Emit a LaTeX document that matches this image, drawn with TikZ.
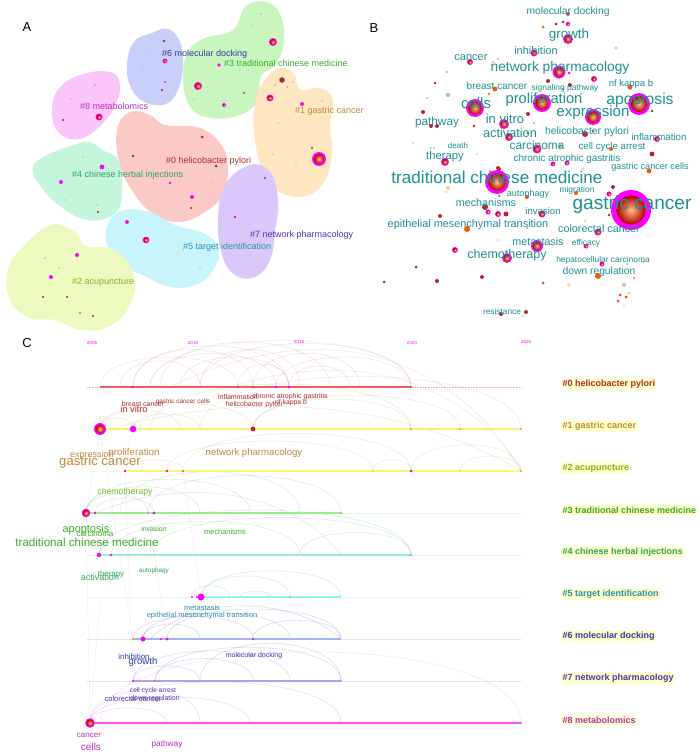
\documentclass[tikz,border=0pt]{standalone}
\usepackage{fontspec}
\setmainfont{Liberation Sans}
\definecolor{dred}{RGB}{178,40,52}
\definecolor{mag}{RGB}{255,0,255}
\definecolor{tealw}{RGB}{32,145,145}
\definecolor{bl6}{RGB}{200,208,250}
\definecolor{bl3}{RGB}{200,246,190}
\definecolor{bl1}{RGB}{253,230,192}
\definecolor{bl8}{RGB}{250,198,250}
\definecolor{bl0}{RGB}{252,202,198}
\definecolor{bl4}{RGB}{196,246,220}
\definecolor{bl7}{RGB}{218,200,250}
\definecolor{bl5}{RGB}{200,245,252}
\definecolor{bl2}{RGB}{236,250,192}
\definecolor{c0}{RGB}{170,45,50}
\definecolor{c1}{RGB}{190,138,60}
\definecolor{c2}{RGB}{128,178,45}
\definecolor{c3}{RGB}{60,170,40}
\definecolor{c4}{RGB}{45,165,95}
\definecolor{c5}{RGB}{45,145,175}
\definecolor{c6}{RGB}{50,60,165}
\definecolor{c7}{RGB}{85,50,175}
\definecolor{c8}{RGB}{185,50,185}
\definecolor{l0}{RGB}{240,95,95}
\definecolor{l1}{RGB}{250,240,110}
\definecolor{l2}{RGB}{250,244,120}
\definecolor{l3}{RGB}{150,240,140}
\definecolor{l4}{RGB}{150,240,205}
\definecolor{l5}{RGB}{140,245,245}
\definecolor{l6}{RGB}{170,180,240}
\definecolor{l7}{RGB}{180,160,240}
\definecolor{l8}{RGB}{250,80,250}
\definecolor{hl}{RGB}{255,255,200}
\newcommand\fsz[1]{\fontsize{#1}{#1}\selectfont}
\newcommand\dd[3]{\fill[#3] (#1) circle (#2pt);}
\newcommand\rn[2]{\fill[mag] (#1) circle (#2pt);\shade[inner color=orange!50!white, outer color=red!70!black] (#1) circle ({0.72*#2pt});}
\newcommand\ta[5]{\draw[#5] (#1,#3) .. controls (#1,{#3-#4}) and (#2,{#3-#4}) .. (#2,#3);}
\tikzset{
  alab/.style={font=\fsz{9}, inner sep=0, anchor=west},
  bword/.style={text=tealw, inner sep=0},
  rlab/.style={font=\fsz{9}\bfseries, fill=hl, rounded corners=4pt, inner sep=1.5pt, anchor=west},
  kw/.style={inner sep=0},
  yr/.style={text=mag, font=\fsz{4.5}, inner sep=0},
  plab/.style={font=\fsz{13}, inner sep=0},
  dotl/.style={line width=0.4pt, dash pattern=on 0.6pt off 1pt, opacity=0.5},
  sol/.style={line width=1.3pt},
}
\begin{document}
\begin{tikzpicture}[x=1pt,y=-1pt]
\fill[white] (0,0) rectangle (700,752);
\useasboundingbox (0,0) rectangle (700,752);

% ================= PANEL A =================
\node[plab] (pA) at (27,27) {A};
\fill[bl6] plot[smooth cycle, tension=0.7] coordinates {(152,33) (168,29) (180,42) (183,65) (178,90) (166,104) (147,103) (132,90) (127,66) (134,42)};
\fill[bl3] plot[smooth cycle, tension=0.7] coordinates {(246,6) (266,2) (280,14) (284,40) (276,64) (261,76) (258,100) (240,115) (212,118) (191,108) (183,80) (188,52) (205,38) (233,30)};
\fill[bl1] plot[smooth cycle, tension=0.7] coordinates {(280,68) (294,74) (300,90) (320,88) (333,100) (330,126) (332,152) (325,180) (306,196) (280,192) (263,172) (254,132) (256,100) (265,80)};
\fill[bl8] plot[smooth cycle, tension=0.7] coordinates {(80,75) (110,72) (120,85) (115,106) (100,126) (80,139) (60,134) (52,114) (58,90)};
\fill[bl0] plot[smooth cycle, tension=0.7] coordinates {(130,112) (150,115) (165,125) (200,128) (222,146) (228,172) (222,196) (205,212) (180,222) (155,215) (135,195) (120,165) (117,130)};
\fill[bl4] plot[smooth cycle, tension=0.7] coordinates {(70,146) (90,142) (102,150) (118,160) (122,186) (118,210) (100,220) (80,218) (60,206) (45,192) (33,172) (40,159)};
\fill[bl7] plot[smooth cycle, tension=0.7] coordinates {(250,165) (270,172) (278,200) (275,232) (270,260) (255,277) (235,275) (222,255) (218,220) (225,185)};
\fill[bl5] plot[smooth cycle, tension=0.7] coordinates {(125,210) (150,212) (175,225) (205,234) (219,250) (212,272) (195,285) (170,287) (145,276) (120,263) (106,241) (110,220)};
\fill[bl2] plot[smooth cycle, tension=0.7] coordinates {(50,225) (75,232) (86,246) (115,250) (134,276) (130,305) (110,326) (80,330) (55,320) (30,318) (10,300) (8,270) (20,250)};
% dots A
\dd{164,41}{1.3}{dred}\rn{165,61}{2.5}\dd{146,52}{0.7}{dred!50}\dd{143,70}{0.7}{dred!50}\dd{165,82}{1}{mag}\dd{162,90}{1.4}{mag}
\dd{219,65}{1.8}{mag}\dd{240,70}{0.6}{blue!50}\dd{248,70}{0.6}{dred!50}\rn{273,42}{4}\dd{252,25}{0.6}{dred!50}\dd{261,14}{0.6}{gray}
\rn{198,86}{4}\dd{194,99}{0.7}{dred!60}\dd{244,93}{1.4}{dred!70}\rn{224,105}{2}
\dd{282,80}{2.8}{dred}\dd{275,85}{0.7}{dred}\dd{287,87}{0.7}{dred}\dd{293,82}{0.6}{blue!50}\rn{270,98}{3.5}\dd{302,104}{2}{mag}\dd{322,101}{0.6}{gray}
\dd{278,123}{0.6}{blue!50}\dd{312,148}{1.2}{dred}\rn{319,159}{7}\dd{273,154}{0.7}{dred!60}\dd{296,165}{0.7}{dred!60}
\dd{95,85}{0.7}{dred}\dd{71,99}{0.6}{dred!60}\rn{99,117}{3.5}\dd{63,120}{1.2}{dred}\dd{108,105}{0.6}{dred!60}
\dd{202,137}{1.5}{dred}\dd{128,140}{0.7}{dred!60}\dd{133,156}{1.4}{dred}\dd{216,166}{1.5}{dred}\dd{146,160}{0.6}{dred!60}
\dd{170,183}{1.3}{mag}\dd{161,184}{0.7}{dred!60}\dd{192,197}{2}{mag}\dd{191,208}{1.2}{dred}\dd{211,182}{0.7}{dred!60}
\dd{102,167}{2.4}{mag}\dd{61,182}{2}{mag}\dd{83,157}{0.6}{dred!60}\dd{65,200}{0.6}{dred!60}\dd{97,205}{0.7}{dred!60}\dd{109,200}{0.6}{dred!60}\dd{98,212}{1.2}{dred}
\dd{265,178}{1.2}{dred}\dd{235,217}{1.4}{mag}\dd{250,200}{0.6}{dred!60}\dd{250,255}{0.6}{dred!60}
\dd{127,222}{2}{mag}\dd{118,232}{0.7}{dred!60}\rn{146,240}{3.4}\dd{183,250}{0.6}{dred!60}\dd{200,268}{0.6}{dred!60}
\dd{77,255}{2}{mag}\dd{51,277}{2}{mag}\dd{45,258}{0.7}{dred}\dd{67,297}{1.2}{dred}\dd{43,297}{1.2}{dred}\dd{93,316}{1.2}{dred}\dd{80,313}{0.8}{dred}\dd{59,268}{0.6}{dred!60}
% labels A
\node[alab, text=c6] (a6) at (162,54) {\#6 molecular docking};
\node[alab, text=c3] (a3) at (224,63) {\#3 traditional chinese medicine};
\node[alab, text=c1] (a1) at (295,111) {\#1 gastric cancer};
\node[alab, text=c8] (a8) at (80,106) {\#8 metabolomics};
\node[alab, text=c0] (a0) at (166,161) {\#0 helicobacter pylori};
\node[alab, text=c4] (a4) at (72,175) {\#4 chinese herbal injections};
\node[alab, text=c7] (a7) at (250,235) {\#7 network pharmacology};
\node[alab, text=c5] (a5) at (183,247) {\#5 target identification};
\node[alab, text=c2] (a2) at (72,282) {\#2 acupuncture};

% ================= PANEL B =================
\node[plab] (pB) at (374,28) {B};
% small dots
\dd{568,14}{2}{dred!80}\dd{563,22}{1.5}{dred}\dd{556,24}{1.5}{dred}\rn{568,24}{2.2}\dd{543,27}{1.5}{orange!70!red}
\dd{616,48}{0.8}{blue!50}\dd{493,62}{0.8}{dred!60}\dd{498,59}{0.8}{dred!60}\dd{447,72}{0.9}{blue!60}
\dd{548,81}{2}{dred}\rn{594,79}{3}\dd{435,83}{1.4}{dred}\dd{495,89}{2.4}{orange!70!red}\dd{489,94}{1.3}{dred!60}
\dd{448,95}{2}{gray!60}\dd{427,98}{0.8}{dred!60}\dd{570,85}{2}{dred}\dd{563,89}{1.2}{blue!60}\dd{630,87}{2.6}{orange!70!red}
\dd{652,111}{1.4}{dred}\dd{581,94}{0.8}{blue!50}\dd{528,114}{2}{dred}\dd{423,112}{2}{dred}\dd{431,126}{2}{dred}\dd{437,126}{2}{dred}
\dd{474,126}{1.4}{dred}\dd{534,123}{0.8}{blue!50}\dd{528,133}{1.4}{dred}\dd{585,134}{3}{dred}\dd{593,131}{1.4}{dred!70}
\dd{413,143}{0.8}{dred!40}\dd{431,148}{0.8}{gray!60}\dd{434,148}{0.8}{gray!60}\dd{560,146}{2}{gray!60}\dd{611,149}{2}{orange!70!red}
\dd{652,154}{2.4}{dred}\dd{477,154}{0.8}{dred!40}\rn{553,164}{2.5}\rn{567,163}{2.5}\dd{498,168}{2}{dred}
\dd{499,169}{2}{dred}\dd{448,188}{2}{orange!40}\dd{446,192}{1.5}{orange!40}\dd{499,196}{1}{dred}\dd{527,197}{2}{orange!60!red}
\dd{576,193}{2}{orange!70!red}\dd{613,187}{2}{dred}\rn{609,194}{2.6}\dd{583,169}{1.5}{orange!40}\dd{649,171}{2.4}{orange!70!red}
\dd{609,215}{1.4}{dred}\dd{485,207}{3}{dred}\rn{488,212}{2.6}\rn{498,214}{3}\dd{506,214}{2.5}{dred}\dd{440,216}{2}{dred}
\dd{467,229}{3}{orange!70!red}\dd{527,228}{0.8}{gray}\dd{585,221}{1.4}{orange!40}\dd{498,240}{0.8}{orange!60}
\rn{586,246}{2.5}\rn{455,250}{3}\rn{602,264}{2.5}\dd{627,264}{0.8}{blue!50}\dd{643,262}{1.5}{orange!50}\dd{598,276}{3}{orange!70!red}
\dd{634,278}{1}{orange!70!red}\dd{416,267}{1.5}{dred}\dd{384,282}{1.5}{dred}\dd{437,281}{2}{dred}\dd{482,277}{2}{dred}\dd{543,283}{1.5}{dred!80}
\dd{569,285}{2}{orange!30}\dd{624,285}{2.2}{gray!40}\dd{620,295}{1.5}{orange!50!red}\dd{626,297}{1.5}{orange!50!red}\dd{629,293}{1.5}{orange!50}
\dd{618,301}{1.5}{orange!60!red}\dd{624,306}{0.8}{gray!50}\dd{501,314}{2}{dred}\dd{526,312}{2}{dred}\dd{523,316}{1.5}{orange!30}
% large nodes
\rn{568,39}{5}\rn{534,53}{3.5}\rn{470,62}{3}\rn{559,72}{6.5}\dd{569,73}{1.5}{mag}
\rn{639,104}{11}\rn{475,108}{9}\rn{542,103}{9}\rn{593,117}{8}\rn{504,124}{5}\rn{509,137}{4}\rn{657,139}{3}
\rn{537,149}{4.5}\rn{445,162}{4}\rn{497,182}{12}\rn{631,210}{20}\rn{542,214}{3.5}\rn{598,232}{3.5}\rn{537,246}{6}\rn{507,258}{5}
% words
\node[bword, font=\fsz{10.3}] (b1) at (568,12) {molecular docking};
\node[bword, font=\fsz{13.4}] (b2) at (569,35) {growth};
\node[bword, font=\fsz{11}] (b3) at (536,51) {inhibition};
\node[bword, font=\fsz{11}] (b4) at (471,58) {cancer};
\node[bword, font=\fsz{13.8}] (b5) at (560,68) {network pharmacology};
\node[bword, font=\fsz{10}] (b6) at (497,86) {breast cancer};
\node[bword, font=\fsz{8.4}] (b7) at (565,88) {signaling pathway};
\node[bword, font=\fsz{9.5}] (b8) at (631,84) {nf kappa b};
\node[bword, font=\fsz{15}] (b9) at (476,103) {cells};
\node[bword, font=\fsz{14.7}] (b10) at (544,100) {proliferation};
\node[bword, font=\fsz{15.7}] (b11) at (640,100) {apoptosis};
\node[bword, font=\fsz{15.1}] (b12) at (593,113) {expression};
\node[bword, font=\fsz{11.8}] (b13) at (437,122) {pathway};
\node[bword, font=\fsz{13}] (b14) at (505,119) {in vitro};
\node[bword, font=\fsz{12.7}] (b15) at (510,133) {activation};
\node[bword, font=\fsz{10.4}] (b16) at (587,132) {helicobacter pylori};
\node[bword, font=\fsz{9.7}] (b17) at (659,137) {inflammation};
\node[bword, font=\fsz{8}] (b18) at (458,146) {death};
\node[bword, font=\fsz{11.9}] (b19) at (537,145) {carcinoma};
\node[bword, font=\fsz{9.7}] (b20) at (612,147) {cell cycle arrest};
\node[bword, font=\fsz{11.3}] (b21) at (445,157) {therapy};
\node[bword, font=\fsz{9.9}] (b22) at (567,159) {chronic atrophic gastritis};
\node[bword, font=\fsz{9.1}] (b23) at (650,167) {gastric cancer cells};
\node[bword, font=\fsz{17.1}] (b24) at (497,177) {traditional chinese medicine};
\node[bword, font=\fsz{9}] (b25) at (528,194) {autophagy};
\node[bword, font=\fsz{8.5}] (b26) at (577,190) {migration};
\node[bword, font=\fsz{19.1}] (b27) at (632,205) {gastric cancer};
\node[bword, font=\fsz{10.7}] (b28) at (486,203) {mechanisms};
\node[bword, font=\fsz{9.6}] (b29) at (543,211) {invasion};
\node[bword, font=\fsz{10.9}] (b30) at (468,225) {epithelial mesenchymal transition};
\node[bword, font=\fsz{10.8}] (b31) at (599,229) {colorectal cancer};
\node[bword, font=\fsz{10.7}] (b32) at (538,242) {metastasis};
\node[bword, font=\fsz{8.4}] (b33) at (586,243) {efficacy};
\node[bword, font=\fsz{12.5}] (b34) at (507,255) {chemotherapy};
\node[bword, font=\fsz{8.4}] (b35) at (603,260) {hepatocellular carcinoma};
\node[bword, font=\fsz{10.3}] (b36) at (599,272) {down regulation};
\node[bword, font=\fsz{8.3}] (b37) at (502,312) {resistance};

% ================= PANEL C =================
\node[plab] (pC) at (27,343) {C};
\node[yr] (y1) at (92,343) {2006};
\node[yr] (y2) at (193,343) {2010};
\node[yr] (y3) at (299,342) {2015};
\node[yr] (y4) at (412,343) {2020};
\node[yr] (y5) at (526,342) {2025};
% faint cross lines
\begin{scope}[gray!40, line width=0.3pt, opacity=0.4]
\draw (100,429) -- (86,513); \draw (86,513) -- (90,723); \draw (125,471) -- (133,681);
\draw (133,429) -- (99,555); \draw (100,429) -- (133,639); \draw (148,513) -- (167,639);
\draw (90,723) -- (100,600); \draw (183,471) -- (201,597);
\end{scope}
% dotted full-length lines
\foreach \yy/\cc in {387/l0,429/l1,471/l2,513/l3,555/l4,597/l5,639/l6,681/l7,723/l8}
  \draw[dotl, \cc] (87,\yy) -- (521,\yy);
% arcs
\begin{scope}[line width=0.45pt, opacity=0.22]
\ta{100}{238}{387}{40}{c0!70}\ta{133}{253}{387}{50}{c0!70}\ta{133}{289}{387}{55}{c0!70}\ta{150}{276}{387}{45}{c0!70}
\ta{180}{289}{387}{40}{c0!70}\ta{200}{300}{387}{50}{c0!70}\ta{238}{289}{387}{30}{c0!70}\ta{253}{360}{387}{45}{c0!70}
\ta{276}{411}{387}{40}{c0!70}\ta{289}{350}{387}{28}{c0!70}\ta{120}{200}{387}{35}{c0!70}\ta{160}{330}{387}{60}{c0!70}
\ta{200}{411}{387}{58}{c0!70}\ta{150}{411}{387}{62}{c0!50}
\draw[c0!60] (170,387) .. controls (350,300) and (470,380) .. (521,471);
\draw[c0!60] (230,387) .. controls (380,340) and (480,400) .. (521,471);
% row 1
\ta{100}{133}{429}{15}{c1}\ta{100}{180}{429}{25}{c1}\ta{133}{200}{429}{20}{c1}\ta{100}{253}{429}{35}{c1}
\ta{253}{411}{429}{40}{c1}\ta{150}{411}{429}{60}{c1}\ta{253}{460}{429}{45}{c1}\ta{200}{521}{429}{70}{c1}
\draw[c1] (110,429) .. controls (250,390) and (400,400) .. (521,471);
% row 2
\ta{125}{183}{471}{15}{c2}\ta{373}{411}{471}{15}{c2}\ta{411}{521}{471}{35}{c2}\ta{460}{521}{471}{20}{c2}
\ta{183}{411}{471}{50}{c2}\ta{167}{373}{471}{40}{c2}
% row 3
\ta{86}{148}{513}{25}{c3}\ta{86}{200}{513}{35}{c3}\ta{95}{154}{513}{20}{c3}\ta{148}{341}{513}{50}{c3}
\ta{120}{300}{513}{55}{c3}\ta{86}{250}{513}{45}{c3}
\draw[c3] (95,513) .. controls (200,470) and (300,500) .. (341,555);
% row 4
\ta{99}{155}{555}{20}{c4}\ta{111}{300}{555}{45}{c4}\ta{99}{411}{555}{60}{c4}\ta{150}{411}{555}{50}{c4}\ta{300}{411}{555}{30}{c4}
% row 5
\ta{201}{341}{597}{35}{c5}\ta{201}{290}{597}{28}{c5}\ta{240}{270}{597}{8}{c5}\ta{192}{230}{597}{15}{c5}
\draw[c6] (150,639) .. controls (200,590) and (300,600) .. (341,639);
% row 6
\ta{133}{253}{639}{30}{c6}\ta{143}{290}{639}{35}{c6}\ta{253}{341}{639}{25}{c6}\ta{167}{341}{639}{40}{c6}\ta{143}{200}{639}{20}{c6}
% row 7
\ta{133}{290}{681}{40}{c7}\ta{155}{341}{681}{45}{c7}\ta{133}{200}{681}{20}{c7}\ta{155}{253}{681}{30}{c7}\ta{200}{341}{681}{50}{c7}
% row 8
\ta{90}{167}{723}{20}{c8}\ta{90}{250}{723}{35}{c8}\ta{90}{341}{723}{55}{c8}\ta{100}{521}{723}{95}{c8!70}\ta{90}{200}{723}{45}{c8}
\end{scope}
% solid lines
\draw[sol, l0] (100,387) -- (411,387);
\draw[sol, l1] (100,429) -- (521,429);
\draw[sol, l2] (125,471) -- (521,471);
\draw[sol, l3] (86,513) -- (341,513);
\draw[sol, l4] (99,555) -- (411,555);
\draw[sol, l5] (201,597) -- (341,597);
\draw[sol, l6] (133,639) -- (341,639);
\draw[sol, l7] (133,681) -- (341,681);
\draw[sol, l8] (90,723) -- (521,723);
% timeline nodes
\dd{133,387}{1}{dred}\dd{238,387}{0.9}{dred}\dd{253,387}{0.9}{dred}\dd{276,387}{1.4}{mag}\dd{289,387}{1.5}{mag}\dd{411,387}{0.9}{dred}
\rn{100,429}{6}\dd{133,429}{3.3}{mag}\dd{253,429}{2.4}{dred}\dd{411,429}{0.9}{dred!70}\dd{460,429}{0.9}{dred!70}\dd{521,429}{0.9}{dred!70}
\dd{125,471}{1.3}{mag}\dd{167,471}{1.4}{mag}\dd{183,471}{1}{mag}\dd{411,471}{1.5}{mag}\dd{373,471}{0.7}{dred!60}\dd{460,471}{0.7}{dred!60}\dd{521,471}{0.9}{dred!70}
\rn{86,513}{4.3}\dd{95,513}{1.3}{mag}\dd{148,513}{1}{dred!60}\dd{154,513}{1.7}{mag}\dd{341,513}{1}{dred!60}
\dd{99,555}{2.2}{mag}\dd{111,555}{1.3}{mag}\dd{411,555}{1}{dred!60}
\dd{192,597}{1.2}{mag}\dd{197,597}{1}{mag}\dd{201,597}{3.5}{mag}\dd{290,597}{0.9}{dred!60}
\dd{133,639}{1}{orange}\dd{143,639}{2.5}{mag}\dd{161,639}{1.2}{mag}\dd{167,639}{1.7}{mag}\dd{253,639}{1}{dred}
\dd{133,681}{1.2}{mag}\dd{155,681}{0.9}{orange}\dd{341,681}{0.8}{dred!60}
\rn{90,723}{4.8}\dd{521,723}{0.8}{dred!60}
% keyword labels
\node[kw, text=c0, font=\fsz{7}] (k1) at (238,397) {inflammation};
\node[kw, text=c0, font=\fsz{7}] (k2) at (290,397) {chronic atrophic gastritis};
\node[kw, text=c0, font=\fsz{7}] (k3) at (254,405) {helicobacter pylori};
\node[kw, text=c0, font=\fsz{6.8}] (k4) at (291,403) {nf kappa b};
\node[kw, text=c0, font=\fsz{7}] (k5) at (143,404) {breast cancer};
\node[kw, text=c0, font=\fsz{6.4}] (k6) at (183,402) {gastric cancer cells};
\node[kw, text=c0, font=\fsz{9.2}] (k7) at (134,409) {in vitro};
\node[kw, text=c1, font=\fsz{9}] (k8) at (92,455) {expression};
\node[kw, text=c1, font=\fsz{9.8}] (k9) at (134,453) {proliferation};
\node[kw, text=c1, font=\fsz{13.1}] (k10) at (100,462) {gastric cancer};
\node[kw, text=c1, font=\fsz{9.6}] (k11) at (254,453) {network pharmacology};
\node[kw, text=c2!90!green, font=\fsz{8.7}] (k12) at (125,492) {chemotherapy};
\node[kw, text=c3, font=\fsz{10.9}] (k13) at (86,530) {apoptosis};
\node[kw, text=c3, font=\fsz{8}] (k14) at (95,534) {carcinoma};
\node[kw, text=c3, font=\fsz{11.6}] (k15) at (87,542) {traditional chinese medicine};
\node[kw, text=c3, font=\fsz{6.9}] (k16) at (154,529) {invasion};
\node[kw, text=c3, font=\fsz{7.4}] (k17) at (225,532) {mechanisms};
\node[kw, text=c4, font=\fsz{9}] (k18) at (100,577) {activation};
\node[kw, text=c4, font=\fsz{7.9}] (k19) at (111,574) {therapy};
\node[kw, text=c4, font=\fsz{6.4}] (k20) at (154,571) {autophagy};
\node[kw, text=c5, font=\fsz{7.5}] (k21) at (202,608) {metastasis};
\node[kw, text=c5, font=\fsz{7.5}] (k22) at (202,616) {epithelial mesenchymal transition};
\node[kw, text=c6, font=\fsz{7.9}] (k23) at (134,657) {inhibition};
\node[kw, text=c6, font=\fsz{9.6}] (k24) at (143,662) {growth};
\node[kw, text=c6, font=\fsz{7}] (k25) at (254,656) {molecular docking};
\node[kw, text=c7, font=\fsz{6.7}] (k26) at (153,691) {cell cycle arrest};
\node[kw, text=c7, font=\fsz{7.5}] (k27) at (133,699) {colorectal cancer};
\node[kw, text=c7, font=\fsz{7}] (k28) at (155,699) {down regulation};
\node[kw, text=c8, font=\fsz{8}] (k29) at (89,735) {cancer};
\node[kw, text=c8, font=\fsz{10}] (k30) at (91,747) {cells};
\node[kw, text=c8, font=\fsz{8.3}] (k31) at (167,744) {pathway};
% right labels
\node[rlab, text=c0] (r0) at (561,384) {\#0 helicobacter pylori};
\node[rlab, text=c1] (r1) at (561,426) {\#1 gastric cancer};
\node[rlab, text=c2] (r2) at (561,468) {\#2 acupuncture};
\node[rlab, text=c3] (r3) at (561,510) {\#3 traditional chinese medicine};
\node[rlab, text=c4] (r4) at (561,552) {\#4 chinese herbal injections};
\node[rlab, text=c5] (r5) at (561,594) {\#5 target identification};
\node[rlab, text=c6] (r6) at (561,636) {\#6 molecular docking};
\node[rlab, text=c7] (r7) at (561,678) {\#7 network pharmacology};
\node[rlab, text=c8] (r8) at (561,720) {\#8 metabolomics};
\end{tikzpicture}
\end{document}
